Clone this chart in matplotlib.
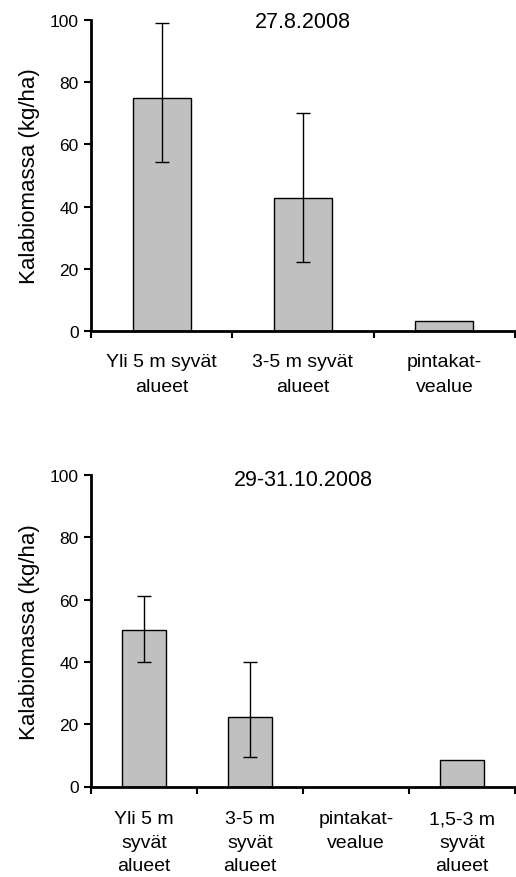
import numpy as np
import matplotlib
matplotlib.use("Agg")
import matplotlib.pyplot as plt

plt.rcParams['font.family'] = ['Liberation Sans', 'DejaVu Sans']

# elokuun kalabiomassa
aug_title = '27.8.2008'
aug_labels = ['Yli 5 m syvät\nalueet', '3-5 m syvät\nalueet', 'pintakat-\nvealue']
aug_values = [75.0, 42.8, 3.2]
aug_err_low = [20.8, 20.7, 0.0]
aug_err_high = [23.9, 27.4, 0.0]
aug_has_err = [True, True, False]

# lokakuun kalabiomassa
oct_title = '29-31.10.2008'
oct_labels = ['Yli 5 m\nsyvät\nalueet', '3-5 m\nsyvät\nalueet', 'pintakat-\nvealue', '1,5-3 m\nsyvät\nalueet']
oct_values = [50.1, 22.2, 0.0, 8.5]
oct_err_low = [10.1, 12.7, 0.0, 0.0]
oct_err_high = [11.0, 17.8, 0.0, 0.0]
oct_has_err = [True, True, False, False]

yticks = [0, 20, 40, 60, 80, 100]

W, H = 516, 878
fig = plt.figure(figsize=(W / 100, H / 100), dpi=100)


def draw_panel(rect, title, labels, values, err_low, err_high, has_err, bar_w, label_pad, linesp, title_y):
    l, t, r, b = rect
    ax = fig.add_axes([l / W, 1 - b / H, (r - l) / W, (b - t) / H])
    n = len(values)
    x = np.arange(n)
    ax.bar(x, values, width=bar_w, color='#c0c0c0', edgecolor='black', linewidth=1.0, zorder=2)
    idx = [i for i in range(n) if has_err[i]]
    ax.errorbar(x[idx], np.array(values)[idx],
                yerr=[np.array(err_low)[idx], np.array(err_high)[idx]],
                fmt='none', ecolor='black', elinewidth=1.0, capsize=4.8, capthick=1.0, zorder=3)
    ax.set_xlim(-0.5, n - 0.5)
    ax.set_ylim(0, 100)
    ax.set_yticks(yticks)
    ax.tick_params(axis='y', direction='out', length=5, width=1.5, labelsize=12.5, pad=4)
    ax.set_xticks(np.arange(n + 1) - 0.5)
    ax.set_xticklabels([])
    ax.set_xticks(x, minor=True)
    ax.set_xticklabels(labels, minor=True, fontsize=14, linespacing=linesp)
    ax.tick_params(axis='x', which='major', direction='out', length=5, width=1.5)
    ax.tick_params(axis='x', which='minor', length=0, pad=label_pad)
    for s in ('top', 'right'):
        ax.spines[s].set_visible(False)
    for s in ('left', 'bottom'):
        ax.spines[s].set_linewidth(2.0)
    ax.spines['bottom'].set_zorder(4)
    ax.set_ylabel('Kalabiomassa (kg/ha)', fontsize=16, labelpad=7)
    ax.text(0.5, title_y, title, transform=ax.transAxes, ha='center', va='center', fontsize=15.5)
    return ax


draw_panel((91, 21, 515, 332), aug_title, aug_labels, aug_values,
           aug_err_low, aug_err_high, aug_has_err, 0.41, 16, 1.6, 0.995)
draw_panel((91, 476, 515, 787.5), oct_title, oct_labels, oct_values,
           oct_err_low, oct_err_high, oct_has_err, 0.42, 17, 1.5, 0.985)

fig.savefig('out.png', dpi=100)
